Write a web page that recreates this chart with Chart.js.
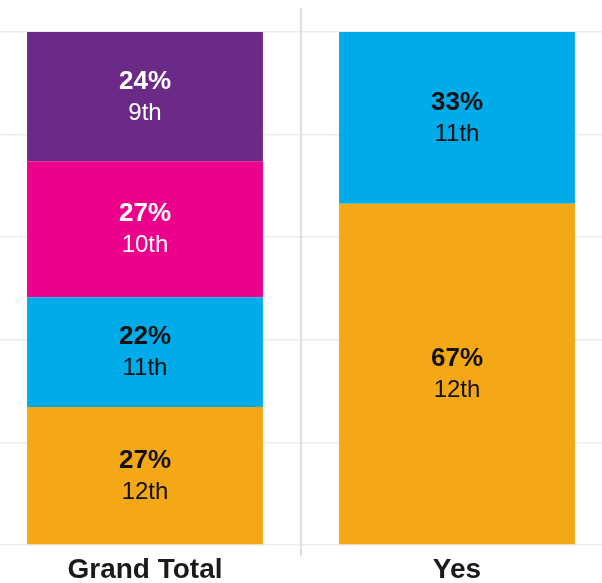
<!DOCTYPE html>
<html>
<head>
<meta charset="utf-8">
<script src="https://cdn.jsdelivr.net/npm/chart.js@4/dist/chart.umd.min.js"></script>
<style>
  html, body { margin: 0; padding: 0; background: #fff; overflow: hidden; }
  #wrap { position: absolute; left: -11px; top: 0; width: 624px; height: 583px; }
</style>
</head>
<body>
<div id="wrap"><canvas id="c" width="624" height="583"></canvas></div>
<script>
  // kategoriler ve seriler (alttan üste)
  const kategoriler = ["Grand Total", "Yes"];
  const seriAdlari = ["12th", "11th", "10th", "9th"];
  const seri12 = [26.9, 66.5];
  const seri11 = [21.4, 33.5];
  const seri10 = [26.5, null];
  const seri9 = [25.2, null];
  // kutu içindeki yüzde etiketleri
  const etiket12 = ["27%", "67%"];
  const etiket11 = ["22%", "33%"];
  const etiket10 = ["27%", ""];
  const etiket9 = ["24%", ""];
  const yTicks = [0, 20, 40, 60, 80, 100];

  const renkler = ["#F5A816", "#00ABEA", "#EC008C", "#6B2A87"];
  const yaziRenk = ["#111", "#111", "#fff", "#fff"];
  const degerler = [seri12, seri11, seri10, seri9];
  const etiketler = [etiket12, etiket11, etiket10, etiket9];
  const FONT = '"Liberation Sans", Arial, sans-serif';

  const ayirici = {
    id: "ayirici",
    beforeDatasetsDraw(chart) {
      const x = chart.scales.x;
      const px = (x.getPixelForValue(0) + x.getPixelForValue(1)) / 2;
      const ctx = chart.ctx;
      ctx.save();
      ctx.strokeStyle = "#dedede";
      ctx.lineWidth = 2;
      ctx.beginPath();
      ctx.moveTo(px, 8);
      ctx.lineTo(px, 556);
      ctx.stroke();
      ctx.restore();
    }
  };

  const kutuYazi = {
    id: "kutuYazi",
    afterDatasetsDraw(chart) {
      const ctx = chart.ctx;
      ctx.save();
      ctx.textAlign = "center";
      ctx.textBaseline = "alphabetic";
      chart.data.datasets.forEach((ds, i) => {
        const meta = chart.getDatasetMeta(i);
        meta.data.forEach((el, j) => {
          if (ds.data[j] == null) return;
          const cy = (el.y + el.base) / 2;
          ctx.fillStyle = yaziRenk[i];
          ctx.font = "bold 26px " + FONT;
          ctx.fillText(etiketler[i][j], el.x, cy - 8);
          ctx.font = "24px " + FONT;
          ctx.fillText(seriAdlari[i], el.x, cy + 23);
        });
      });
      ctx.restore();
    }
  };

  new Chart(document.getElementById("c"), {
    type: "bar",
    data: {
      labels: kategoriler,
      datasets: seriAdlari.map((ad, i) => ({
        label: ad,
        data: degerler[i],
        backgroundColor: renkler[i],
        borderWidth: 0,
        barPercentage: 0.756,
        categoryPercentage: 1,
      })),
    },
    options: {
      responsive: false,
      animation: false,
      layout: { padding: { top: 32, left: 0, right: 0, bottom: 0 } },
      plugins: { legend: { display: false }, tooltip: { enabled: false } },
      scales: {
        x: {
          stacked: true,
          grid: { display: false, drawTicks: false },
          border: { display: false },
          ticks: { color: "#1a1a1a", font: { family: FONT, size: 28, weight: "bold" }, padding: 8 },
          afterFit: a => { a.height = 38; },
        },
        y: {
          stacked: true,
          min: 0,
          max: 100,
          afterBuildTicks: a => { a.ticks = yTicks.map(v => ({ value: v })); },
          ticks: { display: false },
          grid: { color: "#ececec", lineWidth: 1.5, drawTicks: false },
          border: { display: false },
          afterFit: a => { a.width = 0; },
        },
      },
    },
    plugins: [ayirici, kutuYazi],
  });
</script>
</body>
</html>
